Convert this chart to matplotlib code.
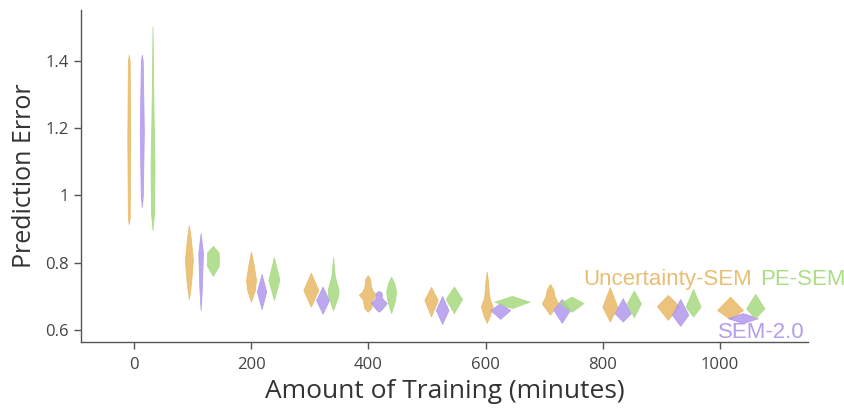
import numpy as np
import matplotlib
matplotlib.use('Agg')
import matplotlib.pyplot as plt
from matplotlib.ticker import FuncFormatter

plt.rcParams['font.family'] = ['Open Sans', 'DejaVu Sans']

# violin positions (minutes)
unc_x = [-8.5, 94, 200, 302, 399, 507, 602, 710, 812, 911, 1017]
sem_x = [13.7, 114, 218, 322, 418, 526, 625, 730, 834, 932, 1039]
pe_x = [32, 135, 239, 340, 439, 546, 645, 747, 853, 954, 1060]

# violin outlines: (prediction error, relative density) knots
unc_prof = [
    [(0.915, 0), (0.93, 0.6), (1.17, 1), (1.40, 0.6), (1.419, 0)],
    [(0.691, 0), (0.74, 0.55), (0.808, 1), (0.87, 0.5), (0.912, 0)],
    [(0.684, 0), (0.72, 0.8), (0.749, 1), (0.80, 0.45), (0.833, 0)],
    [(0.669, 0), (0.719, 1), (0.770, 0)],
    [(0.654, 0), (0.665, 0.4), (0.69, 0.55), (0.705, 1), (0.715, 0.6),
     (0.73, 0.35), (0.75, 0.3), (0.763, 0)],
    [(0.640, 0), (0.689, 1), (0.728, 0)],
    [(0.621, 0), (0.64, 0.5), (0.67, 1), (0.69, 0.55), (0.71, 0.35),
     (0.74, 0.25), (0.773, 0)],
    [(0.645, 0), (0.679, 1), (0.70, 0.55), (0.72, 0.4), (0.737, 0)],
    [(0.625, 0), (0.669, 1), (0.727, 0)],
    [(0.630, 0), (0.671, 1), (0.704, 0)],
    [(0.632, 0), (0.659, 1), (0.699, 0)],
]
sem_prof = [
    [(0.966, 0), (1.0, 0.5), (1.19, 1), (1.40, 0.45), (1.419, 0)],
    [(0.659, 0), (0.72, 0.5), (0.829, 1), (0.888, 0)],
    [(0.662, 0), (0.714, 1), (0.766, 0)],
    [(0.648, 0), (0.689, 1), (0.729, 0)],
    [(0.654, 0), (0.665, 0.5), (0.68, 1), (0.69, 0.55), (0.698, 0.35),
     (0.705, 0.4), (0.712, 0.3), (0.716, 0)],
    [(0.618, 0), (0.659, 1), (0.701, 0)],
    [(0.633, 0), (0.659, 1), (0.680, 0)],
    [(0.621, 0), (0.659, 1), (0.692, 0)],
    [(0.625, 0), (0.650, 1), (0.694, 0)],
    [(0.612, 0), (0.645, 1), (0.692, 0)],
    [(0.620, 0), (0.635, 1), (0.650, 0)],
]
pe_prof = [
    [(0.897, 0), (0.95, 0.8), (1.09, 1), (1.25, 0.5), (1.503, 0)],
    [(0.761, 0), (0.79, 1), (0.83, 1), (0.85, 0)],
    [(0.689, 0), (0.749, 1), (0.816, 0)],
    [(0.659, 0), (0.70, 0.9), (0.719, 1), (0.76, 0.3), (0.816, 0)],
    [(0.650, 0), (0.69, 0.8), (0.714, 1), (0.74, 0.6), (0.758, 0)],
    [(0.650, 0), (0.692, 1), (0.729, 0)],
    [(0.665, 0), (0.684, 1), (0.701, 0)],
    [(0.654, 0), (0.680, 1), (0.699, 0)],
    [(0.638, 0), (0.679, 1), (0.717, 0)],
    [(0.640, 0), (0.669, 1), (0.722, 0)],
    [(0.635, 0), (0.664, 1), (0.707, 0)],
]

# max half-width of each violin, in minutes
unc_hw = [2.5, 6.8, 8.5, 12.8, 15, 11.4, 10, 14, 12.8, 18.8, 22]
sem_hw = [3.5, 4, 8, 11, 13.6, 10.8, 17, 14, 14, 14, 25.6]
pe_hw = [3.4, 10, 9.4, 9.4, 8.5, 14, 30, 20, 12, 12.8, 15.6]

series = [
    ('Uncertainty-SEM', unc_x, unc_prof, unc_hw, '#E9B965'),
    ('SEM-2.0', sem_x, sem_prof, sem_hw, '#B298EB'),
    ('PE-SEM', pe_x, pe_prof, pe_hw, '#A7DA80'),
]


def to_stats(prof):
    ys = np.array([p[0] for p in prof])
    vs = np.array([p[1] for p in prof], dtype=float)
    return {'coords': ys, 'vals': vs, 'mean': ys.mean(),
            'median': np.median(ys), 'min': ys.min(), 'max': ys.max()}


fig = plt.figure(figsize=(8.44, 4.12), dpi=100)
ax = fig.add_axes([81 / 844, 1 - 342 / 412, 727 / 844, 332 / 412])

for name, xs, profs, hws, col in series:
    parts = ax.violin([to_stats(p) for p in profs], positions=xs,
                      widths=[2 * h for h in hws], showmeans=False,
                      showextrema=False, showmedians=False)
    for body in parts['bodies']:
        body.set_facecolor(col)
        body.set_edgecolor(col)
        body.set_linewidth(0.6)
        body.set_alpha(0.85)

ax.set_xlim(-90, 1150)
ax.set_ylim(0.564, 1.552)
ax.set_xticks([0, 200, 400, 600, 800, 1000])
ax.set_yticks([0.6, 0.8, 1.0, 1.2, 1.4])
ax.yaxis.set_major_formatter(FuncFormatter(lambda v, p: '%g' % v))

for s in ['top', 'right']:
    ax.spines[s].set_visible(False)
for s in ['left', 'bottom']:
    ax.spines[s].set_color('#555555')
    ax.spines[s].set_linewidth(1.0)
ax.tick_params(colors='#555555', labelcolor='#444444', labelsize=12,
               length=5, width=1)
ax.tick_params(axis='x', pad=6)

ax.set_xlabel('Amount of Training (minutes)', fontsize=19, color='#333333',
              labelpad=4)
ax.set_ylabel('Prediction Error', fontsize=18, color='#333333', labelpad=6)

lab_font = ['Liberation Sans', 'DejaVu Sans']
ax.text(766, 0.749, 'Uncertainty-SEM', color='#E9BE73', fontsize=16,
        family=lab_font, va='center', ha='left', clip_on=False)
ax.text(1068, 0.749, 'PE-SEM', color='#ABDC86', fontsize=16,
        family=lab_font, va='center', ha='left', clip_on=False)
ax.text(997, 0.591, 'SEM-2.0', color='#B49DEB', fontsize=16,
        family=lab_font, va='center', ha='left', clip_on=False)

fig.savefig('out.png', dpi=100)
